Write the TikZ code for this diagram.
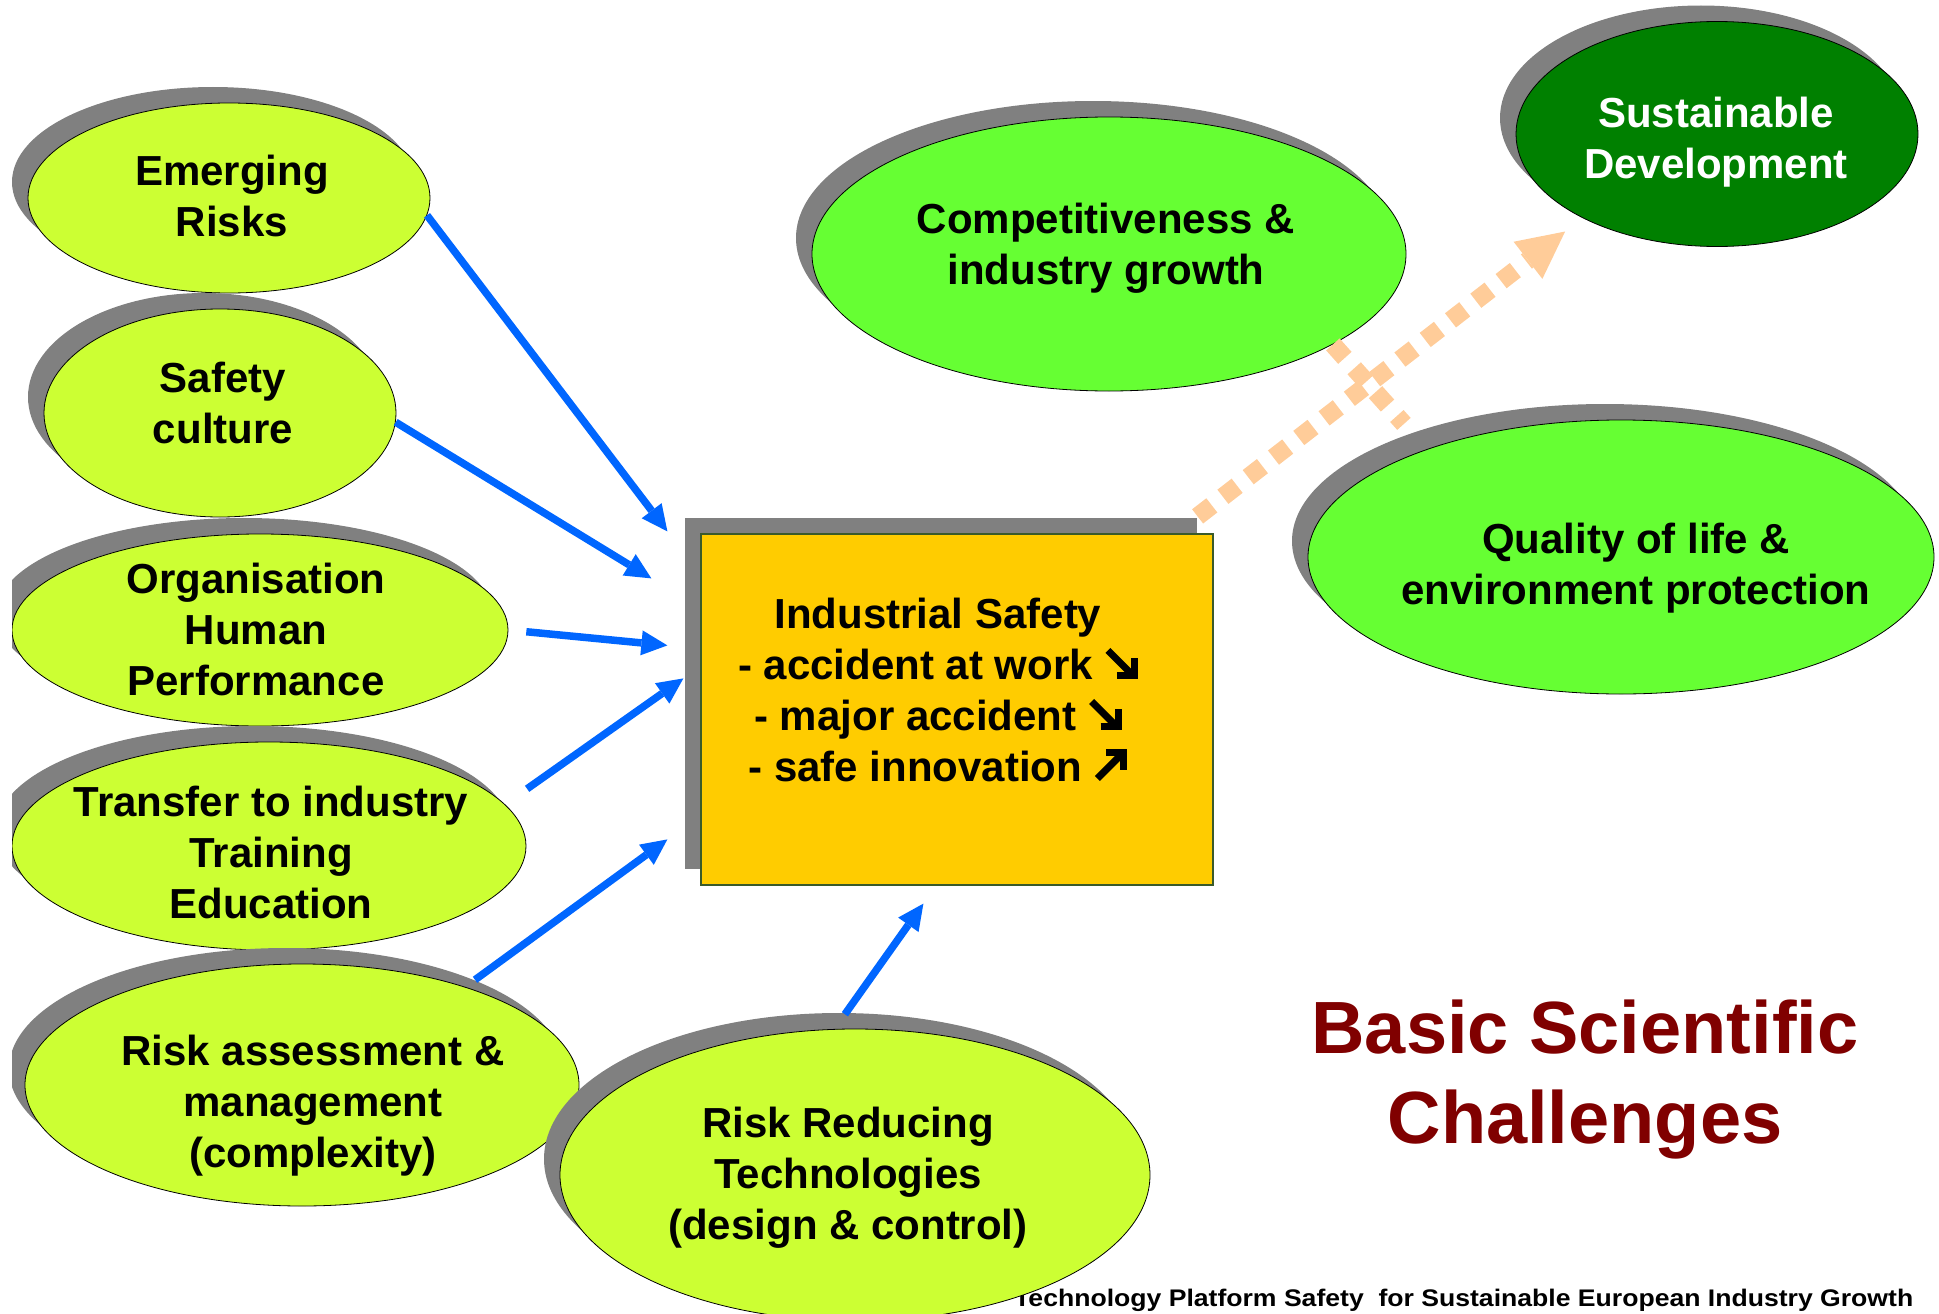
\documentclass[tikz,border=0pt]{standalone}
\usepackage{fontspec}
\usepackage{graphicx}
\setmainfont{Liberation Sans}
\usetikzlibrary{shapes.geometric,shadows,arrows.meta,calc}
\definecolor{lime}{HTML}{CCFF33}
\definecolor{brightgreen}{HTML}{66FF33}
\definecolor{darkgreen}{HTML}{008000}
\definecolor{shgray}{HTML}{808080}
\definecolor{boxyellow}{HTML}{FFCC00}
\definecolor{boxline}{HTML}{3A5A2A}
\definecolor{arrowblue}{HTML}{0066FF}
\definecolor{peach}{HTML}{FFCC99}
\definecolor{darkred}{HTML}{800000}
\newcommand{\sedown}{\ \tikz[baseline=0pt,x=1pt,y=1pt]{\draw[black,line width=7pt,line cap=butt] (3,29) -- (26,6); \draw[black,line width=7pt,line cap=butt,line join=miter] (12,3.5) -- (29.5,3.5) -- (29.5,21);}}
\newcommand{\neup}{\ \tikz[baseline=0pt,x=1pt,y=1pt]{\draw[black,line width=7pt,line cap=butt] (3,3) -- (26,26); \draw[black,line width=7pt,line cap=butt,line join=miter] (12,28.5) -- (29.5,28.5) -- (29.5,11);}}
\begin{document}
\begin{tikzpicture}[x=1pt,y=-1pt,
  shadowed/.style={general shadow={fill=shgray, shadow xshift=-16pt, shadow yshift=16pt}},
  bubble/.style={ellipse, draw=black, line width=0.8pt, inner sep=0pt, shadowed},
  lbl/.style={align=center, font=\bfseries\fontsize{42}{51}\selectfont, inner sep=0pt},
  arr/.style={draw=arrowblue, line width=7.5pt, -{Triangle[length=26pt,width=25pt,line width=0pt]}},
  dots/.style={draw=peach, line width=18pt, dash pattern=on 18pt off 14pt}]
\useasboundingbox (0,0) rectangle (1939,1314);
\clip (12,0) rectangle (1939,1314);
% left bubbles
\node[bubble, fill=lime, minimum width=402pt, minimum height=190pt] (er) at (229,198) {};
\node[lbl] (ert) at (232,196) {Emerging\\Risks};
\node[bubble, fill=lime, minimum width=352pt, minimum height=208pt] (sc) at (220,413) {};
\node[lbl] (sct) at (223,403) {Safety\\culture};
\node[bubble, fill=lime, minimum width=496pt, minimum height=192pt] (org) at (260,630) {};
\node[lbl] (orgt) at (256,629) {Organisation\\Human\\Performance};
\node[bubble, fill=lime, minimum width=514pt, minimum height=208pt] (tr) at (269,846) {};
\node[lbl] (trt) at (271,852) {Transfer to industry\\Training\\Education};
\node[bubble, fill=lime, minimum width=554pt, minimum height=242pt] (ra) at (302,1085) {};
\node[lbl] (rat) at (313,1106) {Risk assessment \&\\management\\(complexity)};
% footer
\node[font=\bfseries\fontsize{24}{28}\selectfont, anchor=base west, inner sep=0pt] (foot) at (1014,1306)
  {\resizebox{899pt}{\height}{Technology Platform Safety\ \ for Sustainable European Industry Growth}};
\node[bubble, fill=lime, minimum width=590pt, minimum height=292pt] (rr) at (855,1175) {};
\node[lbl] (rrt) at (848,1178) {Risk Reducing\\Technologies\\(design \& control)};
% right bubbles
\node[bubble, fill=brightgreen, minimum width=594pt, minimum height=274pt] (comp) at (1109,254) {};
\node[lbl] (compt) at (1106,248) {Competitiveness \&\\industry growth};
\node[bubble, fill=darkgreen, minimum width=402pt, minimum height=225pt] (sd) at (1717,134) {};
\node[lbl, text=white] (sdt) at (1716,142) {Sustainable\\Development};
\node[bubble, fill=brightgreen, minimum width=626pt, minimum height=274pt] (qol) at (1621,557) {};
\node[lbl] (qolt) at (1636,568) {Quality of life \&\\environment protection};
% central box
\node[rectangle, draw=boxline, line width=1.2pt, fill=boxyellow, shadowed, minimum width=512pt, minimum height=351pt, inner sep=0pt] (box) at (957,709.5) {};
\node[lbl] (boxt) at (938,690) {Industrial Safety\\- accident at work\sedown\\- major accident\sedown\\- safe innovation\neup};
% title
\node[align=center, font=\bfseries\fontsize{74}{90}\selectfont, text=darkred, inner sep=0pt] (title) at (1585,1080) {Basic Scientific\\Challenges};
% blue arrows
\draw[arr] (er.-5) -- ($(box.north west)+(-33,-2)$);
\draw[arr] (sc.-3) -- ($(box.north west)+(-49,45)$);
\draw[arr, shorten <=18pt] (org.east) -- ($(box.north west)+(-33,112)$);
\draw[arr, shorten <=27pt] (tr.10) -- ($(box.north west)+(-17,145)$);
\draw[arr, shorten <=12pt] (ra.31) -- ($(box.north west)+(-33,306)$);
\draw[arr, shorten <=18pt] (rr.98) -- ($(box.south west)+(223,18)$);
% dotted peach connectors
\draw[dots, shorten >=34pt] (comp.-22.5) -- (qol.151);
\draw[dots, shorten >=22pt, -{Triangle[length=47pt,width=47pt,line width=0pt]}] ($(box.north east)+(-16,-17)$) -- (sd.212);
\end{tikzpicture}
\end{document}
